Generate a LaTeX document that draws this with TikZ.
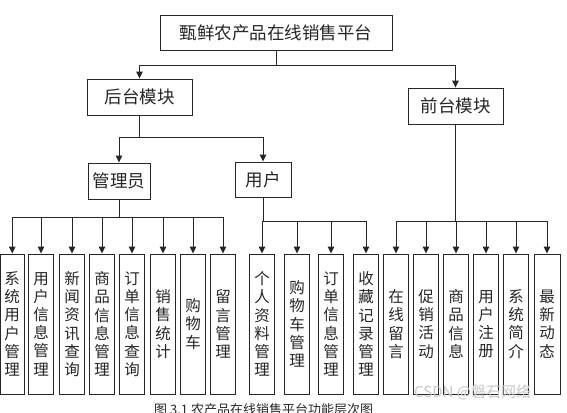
\documentclass[tikz,border=0pt]{standalone}
\usepackage{fontspec}
\setmainfont{Noto Sans CJK SC}
\usetikzlibrary{arrows.meta,calc}
\tikzset{
  box/.style={draw=black!85, line width=0.9pt, fill=white, inner sep=0pt, text=black!85},
  vbox/.style={box, minimum width=25pt, minimum height=140pt, align=center,
    font=\fontsize{15.5pt}{18.2pt}\selectfont},
  hbox/.style={box, font=\fontsize{17.5pt}{20pt}\selectfont},
  conn/.style={draw=black!85, line width=0.9pt},
  arr/.style={conn, -{Triangle[length=7pt,width=6.5pt]}}
}
\begin{document}
\begin{tikzpicture}[x=1pt,y=-1pt]
\useasboundingbox (0,0) rectangle (567,412);
% top levels
\node[hbox, minimum width=232pt, minimum height=35pt] (top) at (276,32.5) {甄鲜农产品在线销售平台};
\node[hbox, minimum width=105pt, minimum height=36pt] (hou) at (139.5,97) {后台模块};
\node[hbox, minimum width=95pt, minimum height=36pt] (qian) at (455.5,106) {前台模块};
\node[hbox, minimum width=62pt, minimum height=36pt] (admin) at (119,181) {管理员};
\node[hbox, minimum width=56pt, minimum height=35pt] (user) at (263,179.5) {用户};
% bottom boxes
\node[vbox, minimum width=23.5pt] (a1) at (12.25,324) {系\\统\\用\\户\\管\\理};
\node[vbox] (a2) at (41,324) {用\\户\\信\\息\\管\\理};
\node[vbox] (a3) at (72,324) {新\\闻\\资\\讯\\查\\询};
\node[vbox] (a4) at (102,324) {商\\品\\信\\息\\管\\理};
\node[vbox] (a5) at (132,324) {订\\单\\信\\息\\查\\询};
\node[vbox] (a6) at (163,324) {销\\售\\统\\计};
\node[vbox] (a7) at (193,324) {购\\物\\车};
\node[vbox] (a8) at (223,324) {留\\言\\管\\理};
\node[vbox] (u1) at (262,324) {个\\人\\资\\料\\管\\理};
\node[vbox] (u2) at (297,324) {购\\物\\车\\管\\理};
\node[vbox] (u3) at (331,324) {订\\单\\信\\息\\管\\理};
\node[vbox] (u4) at (366,324) {收\\藏\\记\\录\\管\\理};
\node[vbox] (f1) at (396,324) {在\\线\\留\\言};
\node[vbox] (f2) at (426,324) {促\\销\\活\\动};
\node[vbox] (f3) at (456,324) {商\\品\\信\\息};
\node[vbox] (f4) at (486,324) {用\\户\\注\\册};
\node[vbox] (f5) at (516,324) {系\\统\\简\\介};
\node[vbox, minimum width=26pt] (f6) at (547,324) {最\\新\\动\\态};
% bus coordinates
\coordinate (b0) at (0,65);
\coordinate (b1) at (0,137);
\coordinate (b2) at (0,217);
\coordinate (b3) at (0,221.5);
% connectors
\draw[conn] (top.south) -- (top.south |- b0);
\draw[arr] (top.south |- b0) -| (hou.north);
\draw[arr] (top.south |- b0) -| (qian.north);
\draw[conn] (hou.south) -- (hou.south |- b1);
\draw[arr] (hou.south |- b1) -| (admin.north);
\draw[arr] (hou.south |- b1) -| (user.north);
\draw[conn] (admin.south) -- (admin.south |- b2);
\foreach \n in {a1,a2,a3,a4,a5,a6,a7,a8}
  \draw[arr] (admin.south |- b2) -| (\n.north);
\draw[conn] (user.south) -- (user.south |- b3);
\foreach \n in {u1,u2,u3,u4}
  \draw[arr] (user.south |- b3) -| (\n.north);
\draw[conn] (qian.south) -- (qian.south |- b3);
\foreach \n in {f1,f2,f3,f4,f5,f6}
  \draw[arr] (qian.south |- b3) -| (\n.north);
% watermark
\node[anchor=west, text=black!22, font=\fontsize{15pt}{17pt}\selectfont, inner sep=0pt] (wm) at (414,392) {CSDN @磐石网络};
% caption (cut by the page edge)
\node[anchor=west, inner sep=0pt, text=black!85, font=\fontsize{13pt}{15pt}\selectfont] (cap) at (154,410) {图 3.1 农产品在线销售平台功能层次图};
\end{tikzpicture}
\end{document}
